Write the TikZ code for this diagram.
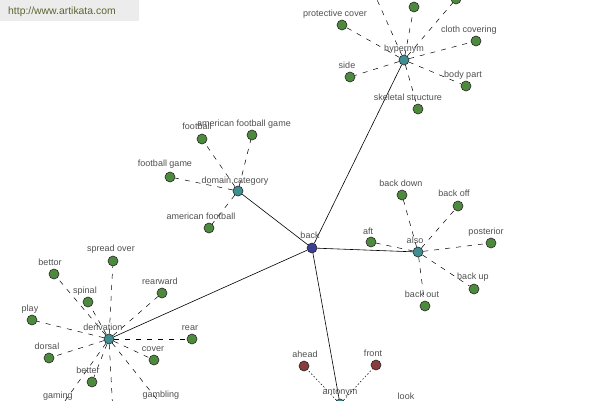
\documentclass[tikz,border=0pt]{standalone}
\usepackage{fontspec}
\setmainfont{Liberation Sans}
\usetikzlibrary{backgrounds}
\definecolor{leafg}{HTML}{4E8A3E}
\definecolor{hubt}{HTML}{3F8E92}
\definecolor{rootb}{HTML}{3D3D94}
\definecolor{antr}{HTML}{8A3B3B}
\definecolor{lblc}{HTML}{505050}
\definecolor{wmbg}{HTML}{ECECEC}
\definecolor{wmtx}{HTML}{5A6630}
\begin{document}
\begin{tikzpicture}[x=1pt,y=-1pt,
  dot/.style={circle,inner sep=0pt,minimum size=10pt,draw=black!85,line width=0.6pt},
  leaf/.style={dot,fill=leafg},
  hub/.style={dot,fill=hubt},
  rootn/.style={dot,fill=rootb},
  antn/.style={dot,fill=antr},
  lbl/.style={inner sep=0pt,text=lblc,font=\fontsize{9}{10}\selectfont,text height=6.5pt,text depth=1.9pt},
  rel/.style={draw=black,line width=0.6pt},
  sub/.style={draw=black,line width=0.5pt,dash pattern=on 5pt off 6pt},
  subant/.style={draw=black,line width=0.5pt,dash pattern=on 1.5pt off 2pt}]
\useasboundingbox (0,0) rectangle (600,400);
\clip (0,0) rectangle (600,400);

% root
\node[rootn] (back) at (312,248) {};
\node[lbl] (back-l) at (310,236) {back};

% hypernym group
\node[hub] (hyp) at (404,60) {};
\node[lbl] (hyp-l) at (404,49) {hypernym};
\node[leaf] (pc) at (342,25) {};
\node[lbl] (pc-l) at (335,14) {protective cover};
\node[leaf] (cc) at (476,41) {};
\node[lbl] (cc-l) at (469,30) {cloth covering};
\node[leaf] (side) at (350,77) {};
\node[lbl] (side-l) at (347,66) {side};
\node[leaf] (bp) at (466,86) {};
\node[lbl] (bp-l) at (463,75) {body part};
\node[leaf] (ss) at (418,109) {};
\node[lbl] (ss-l) at (408,98) {skeletal structure};
\node[leaf] (ht1) at (414,7) {};
\node[leaf] (ht2) at (456,-1) {};
\node[leaf] (ht3) at (370,-16) {};

% domain category group
\node[hub] (dom) at (238,191) {};
\node[lbl] (dom-l) at (235,181) {domain category};
\node[leaf] (fb) at (202,139) {};
\node[lbl] (fb-l) at (197,127) {football};
\node[leaf] (afg) at (252,135) {};
\node[lbl] (afg-l) at (244,124) {american football game};
\node[leaf] (fg) at (170,177) {};
\node[lbl] (fg-l) at (165,164) {football game};
\node[leaf] (af) at (209,228) {};
\node[lbl] (af-l) at (201,217) {american football};

% also group
\node[hub] (also) at (418,252) {};
\node[lbl] (also-l) at (415,241) {also};
\node[leaf] (bd) at (402,195) {};
\node[lbl] (bd-l) at (401,184) {back down};
\node[leaf] (bo) at (458,206) {};
\node[lbl] (bo-l) at (454,194) {back off};
\node[leaf] (aft) at (371,242) {};
\node[lbl] (aft-l) at (368,232) {aft};
\node[leaf] (post) at (491,243) {};
\node[lbl] (post-l) at (486,232) {posterior};
\node[leaf] (bu) at (474,289) {};
\node[lbl] (bu-l) at (473,277) {back up};
\node[leaf] (bout) at (425,306) {};
\node[lbl] (bout-l) at (422,295) {back out};

% derivation group
\node[hub] (der) at (109,339) {};
\node[lbl] (der-l) at (103,328) {derivation};
\node[leaf] (so) at (113,261) {};
\node[lbl] (so-l) at (111,249) {spread over};
\node[leaf] (bettor) at (54,274) {};
\node[lbl] (bettor-l) at (50,263) {bettor};
\node[leaf] (spinal) at (88,302) {};
\node[lbl] (spinal-l) at (85,291) {spinal};
\node[leaf] (rw) at (162,293) {};
\node[lbl] (rw-l) at (160,282) {rearward};
\node[leaf] (play) at (32,320) {};
\node[lbl] (play-l) at (30,309) {play};
\node[leaf] (rear) at (192,339) {};
\node[lbl] (rear-l) at (190,328) {rear};
\node[leaf] (dorsal) at (49,358) {};
\node[lbl] (dorsal-l) at (47,347) {dorsal};
\node[leaf] (cover) at (154,360) {};
\node[lbl] (cover-l) at (153,349) {cover};
\node[leaf] (better) at (92,382) {};
\node[lbl] (better-l) at (88,371) {better};
\node[leaf] (gaming) at (60,408) {};
\node[lbl] (gaming-l) at (58,396) {gaming};
\node[leaf] (gambling) at (163,407) {};
\node[lbl] (gambling-l) at (161,395) {gambling};
\node[leaf] (dd) at (113,414) {};

% antonym group
\node[hub] (ant) at (340,404) {};
\node[lbl] (ant-l) at (340,392) {antonym};
\node[antn] (ahead) at (304,366) {};
\node[lbl] (ahead-l) at (305,355) {ahead};
\node[antn] (front) at (376,365) {};
\node[lbl] (front-l) at (373,354) {front};
\node[antn] (look) at (408,409) {};
\node[lbl] (look-l) at (406,397) {look};

\begin{scope}[on background layer]
  \clip (0,0) rectangle (600,400);
  \fill[white] (0,0) rectangle (600,400);
  \draw[rel] (back) -- (hyp);
  \draw[rel] (back) -- (dom);
  \draw[rel] (back) -- (also);
  \draw[rel] (back) -- (der);
  \draw[rel] (back) -- (ant);
  \foreach \n in {pc,cc,side,bp,ss,ht1,ht2,ht3} \draw[sub] (hyp) -- (\n);
  \foreach \n in {fb,afg,fg,af} \draw[sub] (dom) -- (\n);
  \foreach \n in {bd,bo,aft,post,bu,bout} \draw[sub] (also) -- (\n);
  \foreach \n in {so,bettor,spinal,rw,play,rear,dorsal,cover,better,gaming,gambling,dd} \draw[sub] (der) -- (\n);
  \foreach \n in {ahead,front,look} \draw[subant] (ant) -- (\n);
\end{scope}

% watermark
\node[fill=wmbg,minimum width=139pt,minimum height=21pt,inner sep=0pt,anchor=north west] (wm) at (0,0) {};
\node[text=wmtx,font=\fontsize{10.4}{12}\selectfont,anchor=west,inner sep=0pt] (wm-t) at (8,11.5) {http://www.artikata.com};
\end{tikzpicture}
\end{document}
